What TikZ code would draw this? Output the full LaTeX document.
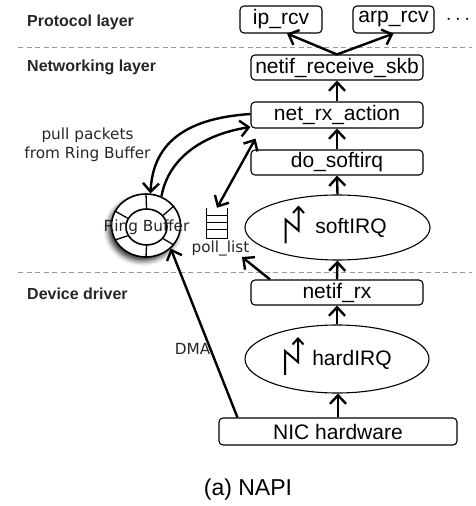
\documentclass[tikz,border=0pt]{standalone}
\usepackage{fontspec}
\setmainfont{Liberation Sans}
\newfontfamily\lblfont{DejaVu Sans}
\usetikzlibrary{arrows.meta,shapes.geometric,shadows.blur,calc}

\begin{document}
\begin{tikzpicture}[x=1pt,y=1pt,
  box/.style={draw,rounded corners=4pt,line width=1.1pt,minimum height=25pt,
    inner sep=0pt,font=\fontsize{21}{24}\selectfont},
  irq/.style={draw,ellipse,line width=1.1pt,inner sep=0pt},
  irqtext/.style={font=\fontsize{21}{24}\selectfont,inner sep=0pt},
  layer/.style={anchor=west,inner sep=0pt,text=black!85,font=\bfseries\fontsize{16}{19}\selectfont},
  note/.style={inner sep=0pt,text=black!85,font=\lblfont\fontsize{15.3}{19}\selectfont},
  flow/.style={line width=2.4pt,-{Straight Barb[length=8.5pt,width=16pt]}},
  twoway/.style={line width=2.4pt,{Straight Barb[length=8.5pt,width=16pt]}-{Straight Barb[length=8.5pt,width=16pt]}},
  bolt/.style={line width=2pt,-{Straight Barb[length=6pt,width=11pt]}},
  sep/.style={draw=black!40,line width=1pt,dash pattern=on 5pt off 3.5pt},
  ring/.style={draw,ellipse,line width=1.6pt,inner sep=0pt}
]
\useasboundingbox (0,0) rectangle (475,506);

% layer separators
\draw[sep] (18,458) -- (472,458);
\draw[sep] (18,233) -- (472,233);

% layer titles
\node[layer] (tproto) at (27,484) {Protocol layer};
\node[layer] (tnet)   at (27,439) {Networking layer};
\node[layer] (tdev)   at (27,212) {Device driver};

% protocol handlers
\node[box,minimum width=82pt,minimum height=27pt] (ip)  at (281,486.5) {ip\_rcv};
\node[box,minimum width=81pt,minimum height=27pt] (arp) at (393.5,486.5) {arp\_rcv};
\node[inner sep=0pt,font=\fontsize{21}{24}\selectfont] (more) at (458,486) {$\cdots$};

% receive path
\node[box,minimum width=172pt] (nrs) at (337,438.5) {netif\_receive\_skb};
\node[box,minimum width=172pt,minimum height=26pt] (nra) at (337,391) {net\_rx\_action};
\node[box,minimum width=172pt] (dos) at (337,343.5) {do\_softirq};
\node[irq,minimum width=185pt,minimum height=65pt] (soft) at (337.5,278.5) {};
\node[irqtext] (softt) at (351,278) {softIRQ};
\node[box,minimum width=172pt] (nrx) at (337,213.5) {netif\_rx};
\node[irq,minimum width=184pt,minimum height=68pt] (hard) at (337,147) {};
\node[irqtext] (hardt) at (352,146.5) {hardIRQ};
\node[box,minimum width=238pt,minimum height=27pt] (nic) at (338,74.5) {NIC hardware};

% interrupt glyphs
\foreach \e in {soft,hard}{
  \draw[bolt] ([shift={(-52pt,-16pt)}]\e.center) -- ([shift={(-52pt,8pt)}]\e.center)
     -- ([shift={(-39pt,-3pt)}]\e.center) -- ([shift={(-39pt,22pt)}]\e.center);
}

% ring buffer
\node[ring,fill=white,minimum width=69pt,minimum height=63pt,
  blur shadow={shadow xshift=-3pt,shadow yshift=-4pt,shadow blur radius=5pt,shadow opacity=80}]
  (rb) at (146,280.5) {};
\node[ring,minimum width=41pt,minimum height=36pt] (rbin) at (146.5,279) {};
\foreach \a in {90,155,-155,-90,-35,35}{
  \draw[line width=1.3pt] (rbin.\a) -- (rb.\a);
}
\node[note] (rbt) at (146.5,279) {Ring Buffer};

% poll list
\node[minimum width=20pt,minimum height=30pt,inner sep=0pt] (plist) at (217,283) {};
\draw[line width=1.1pt] (plist.north west) -- (plist.south west) -- (plist.south east) -- (plist.north east);
\foreach \h in {7.5,14.5,21.5}{
  \draw[line width=1.1pt] ([yshift=-\h pt]plist.north west) -- ([yshift=-\h pt]plist.north east);
}
\node[note] (pl) at (220.5,258) {poll\_list};
\coordinate (pltip) at (242,249);

% labels
\node[note,align=center] (pull) at (87.5,361.5) {pull packets\\from Ring Buffer};
\node[note] (dma) at (192.5,157) {DMA};
\node[inner sep=0pt,font=\fontsize{23}{27}\selectfont] (cap) at (248,16) {(a) NAPI};

% vertical flow
\draw[flow] (nic.north) -- (nic.north |- hard.south);
\draw[flow] (hard.north) -- (nrx.south);
\draw[flow] (nrx.north) -- (soft.south);
\draw[flow] (soft.north) -- (dos.south);
\draw[flow] (dos.north) -- (nra.south);
\draw[flow] (nra.north) -- (nrs.south);
\draw[flow] (nrs.north) -- ([xshift=6pt]ip.south);
\draw[flow] (nrs.north) -- (arp.south);

% polling
\draw[flow] ([xshift=-67pt]nrx.north) -- (pltip);
\draw[twoway] (plist.north) -- ([shift={(5pt,-10pt)}]nra.south west);
\draw[flow] ([yshift=1pt]nra.west) .. controls (190,388) and (153,366) .. (rb.82);
\draw[flow] (rb.62) .. controls (168,346) and (200,371) .. ([yshift=-12pt]nra.west);

% DMA into the ring
\draw[flow] ([xshift=19pt]nic.north west) -- (rb.-43);
\end{tikzpicture}
\end{document}
